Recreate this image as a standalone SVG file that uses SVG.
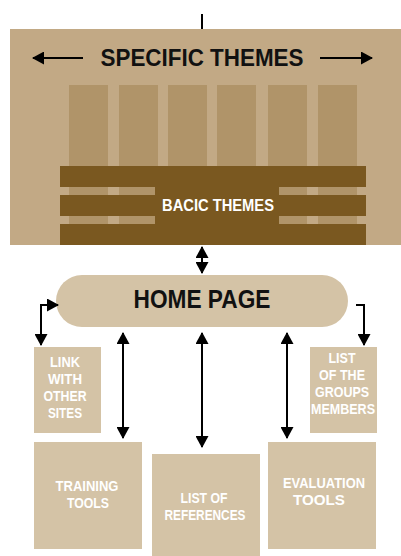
<svg xmlns="http://www.w3.org/2000/svg" width="401" height="556" viewBox="0 0 401 556">
<defs>
<style>
.lbl{font-family:"Liberation Sans",Arial,sans-serif;font-weight:bold;text-anchor:middle}
.w{fill:#ffffff;font-size:15px}
.box{fill:#d4c3a6}
.col{fill:#b09469}
.bar{fill:#7a5820}
.ln{stroke:#000;stroke-width:2;fill:none}
</style>
<marker id="ah" markerUnits="userSpaceOnUse" markerWidth="13" markerHeight="13" refX="11" refY="6.5" orient="auto-start-reverse" viewBox="0 0 13 13">
<polygon points="0,0 12,6.5 0,13" fill="#000"/>
</marker>
</defs>
<g id="themes">
<rect x="10" y="29" width="391" height="216" fill="#c2a985"/>
<rect class="col" x="69" y="85" width="39" height="140"/>
<rect class="col" x="119" y="85" width="39" height="140"/>
<rect class="col" x="168" y="85" width="39" height="140"/>
<rect class="col" x="217" y="85" width="39" height="140"/>
<rect class="col" x="268" y="85" width="39" height="140"/>
<rect class="col" x="318" y="85" width="39" height="140"/>
<rect class="bar" x="60" y="166" width="306" height="21"/>
<rect class="bar" x="60" y="195" width="306" height="21"/>
<rect class="bar" x="60" y="224" width="306" height="21"/>
<rect class="bar" x="155" y="166" width="124" height="79"/>
<text class="lbl" x="202" y="66" font-size="24" fill="#111" textLength="203" lengthAdjust="spacingAndGlyphs">SPECIFIC THEMES</text>
<text class="lbl" x="218" y="211" font-size="16.5" fill="#fff" textLength="112" lengthAdjust="spacingAndGlyphs">BACIC THEMES</text>
</g>
<g id="home">
<rect x="56" y="275" width="292" height="52" rx="26" class="box"/>
<text class="lbl" x="202" y="308" font-size="25" fill="#111" textLength="137" lengthAdjust="spacingAndGlyphs">HOME PAGE</text>
</g>
<g id="link">
<rect x="34" y="347" width="67" height="86" class="box"/>
<text class="lbl w" x="65" y="367" textLength="30" lengthAdjust="spacingAndGlyphs">LINK</text>
<text class="lbl w" x="65" y="384" textLength="34" lengthAdjust="spacingAndGlyphs">WITH</text>
<text class="lbl w" x="65" y="401" textLength="43" lengthAdjust="spacingAndGlyphs">OTHER</text>
<text class="lbl w" x="65" y="418" textLength="34" lengthAdjust="spacingAndGlyphs">SITES</text>
</g>
<g id="members">
<rect x="310" y="347" width="67" height="86" class="box"/>
<text class="lbl w" x="342" y="363" textLength="27" lengthAdjust="spacingAndGlyphs">LIST</text>
<text class="lbl w" x="342" y="380" textLength="46" lengthAdjust="spacingAndGlyphs">OF THE</text>
<text class="lbl w" x="342" y="397" textLength="54" lengthAdjust="spacingAndGlyphs">GROUPS</text>
<text class="lbl w" x="343" y="414" textLength="64" lengthAdjust="spacingAndGlyphs">MEMBERS</text>
</g>
<g id="training">
<rect x="34" y="442" width="108" height="107" class="box"/>
<text class="lbl w" x="87" y="491" textLength="63" lengthAdjust="spacingAndGlyphs">TRAINING</text>
<text class="lbl w" x="88" y="508" textLength="42" lengthAdjust="spacingAndGlyphs">TOOLS</text>
</g>
<g id="references">
<rect x="152" y="454" width="108" height="102" class="box"/>
<text class="lbl w" x="204" y="503" textLength="47" lengthAdjust="spacingAndGlyphs">LIST OF</text>
<text class="lbl w" x="205" y="520" textLength="81" lengthAdjust="spacingAndGlyphs">REFERENCES</text>
</g>
<g id="evaluation">
<rect x="268" y="442" width="108" height="107" class="box"/>
<text class="lbl w" x="324" y="488" textLength="82" lengthAdjust="spacingAndGlyphs">EVALUATION</text>
<text class="lbl w" x="319" y="505" textLength="52" lengthAdjust="spacingAndGlyphs">TOOLS</text>
</g>
<g id="connectors">
<line class="ln" x1="202" y1="14" x2="202" y2="29"/>
<line class="ln" x1="83" y1="58" x2="33" y2="58" marker-end="url(#ah)"/>
<line class="ln" x1="320" y1="58" x2="372" y2="58" marker-end="url(#ah)"/>
<line class="ln" x1="202" y1="247" x2="202" y2="273" marker-start="url(#ah)" marker-end="url(#ah)"/>
<polyline class="ln" points="58,305 41,305 41,345" marker-start="url(#ah)" marker-end="url(#ah)"/>
<polyline class="ln" points="356,305 364,305 364,345" marker-end="url(#ah)"/>
<line class="ln" x1="123" y1="333" x2="123" y2="438" marker-start="url(#ah)" marker-end="url(#ah)"/>
<line class="ln" x1="202" y1="333" x2="202" y2="447" marker-start="url(#ah)" marker-end="url(#ah)"/>
<line class="ln" x1="287" y1="333" x2="287" y2="438" marker-start="url(#ah)" marker-end="url(#ah)"/>
</g>
</svg>
